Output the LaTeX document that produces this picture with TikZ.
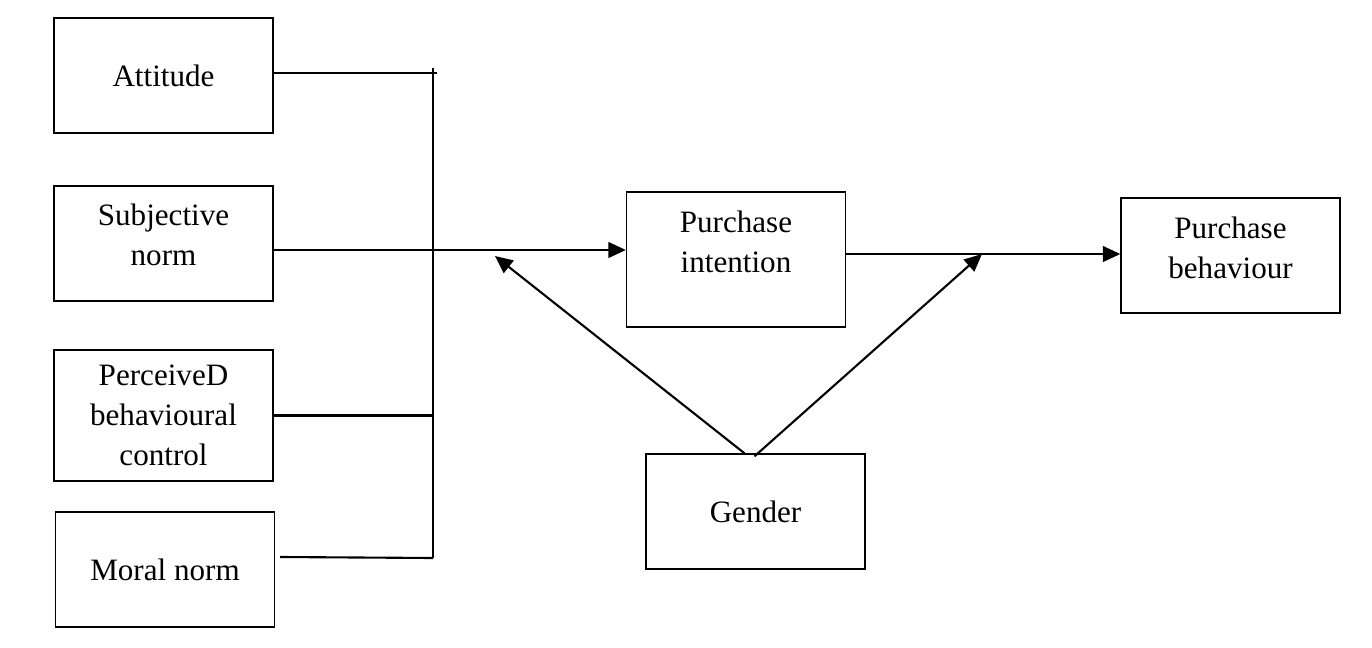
\documentclass[tikz,border=0pt]{standalone}
\usepackage{fontspec}
\setmainfont{Liberation Serif}
\usetikzlibrary{arrows.meta, positioning, calc}

\begin{document}
\begin{tikzpicture}[
                x=0.02cm, y=-0.02cm,
                box/.style={draw, line width=0.8pt, minimum width=4.38cm, minimum height=2.3cm,
                    align=center, font=\fontsize{17.7}{22.7}\selectfont},
                lift/.style={text depth=#1},
                link/.style={line width=1.2pt},
                arr/.style={line width=1.2pt, -{Triangle[length=10pt, width=9pt]}}
            ]
                \useasboundingbox (0,0) rectangle (1372,648);

                % Nodes
                \node[box] (att) at (163.5,75.5) {Attitude};
                \node[box, lift=0.36cm] (subj) at (163.5,243.5) {Subjective\\norm};
                \node[box, lift=-0.16cm, minimum height=2.62cm] (pbc) at (163.5,415.5) {PerceiveD\\behavioural\\control};
                \node[box] (moral) at (165,569.5) {Moral norm};
                \node[box, lift=0.72cm, minimum height=2.7cm] (pi) at (736,259.5) {Purchase\\intention};
                \node[box, lift=0.32cm] (pb) at (1230.5,255.5) {Purchase\\behaviour};
                \node[box] (gen) at (755.5,511.5) {Gender};

                % Bus and junctions
                \coordinate (bustop) at (433,68);
                \coordinate (busbot) at (433,558);
                \coordinate (j1) at (433,250);
                \coordinate (m1) at (495,256);
                \coordinate (m2) at (982,254);

                % Edges
                \draw[link] (bustop) -- (busbot);
                \draw[link] ([yshift=0.05cm]att.east) -- ([yshift=0.05cm]att.east -| bustop) -- ++(4,0);
                \draw[link] (pbc.east) -- (pbc.east -| bustop);
                \draw[link] ([xshift=0.1cm, yshift=0.25cm]moral.east) -- (busbot);
                \draw[arr] (subj.east |- j1) -- (pi.west |- j1);
                \draw[arr] (pi.east |- m2) -- (pb.west |- m2);
                \draw[arr] ([xshift=-0.22cm]gen.north) -- (m1);
                \draw[arr] ([xshift=-0.02cm, yshift=-0.06cm]gen.north) -- (m2);
            \end{tikzpicture}
\end{document}
